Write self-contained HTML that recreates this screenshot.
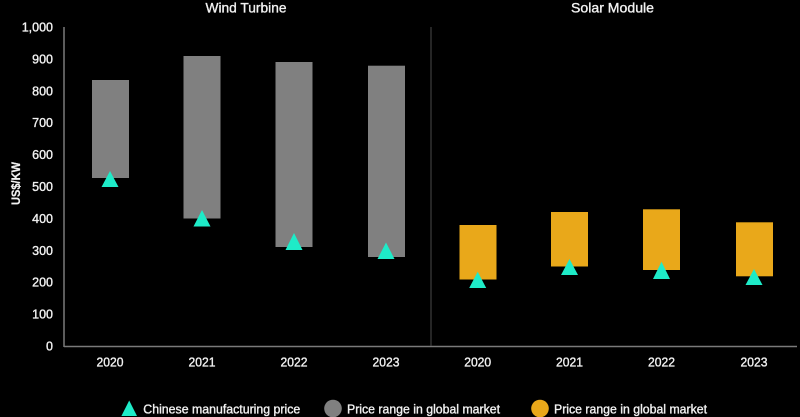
<!DOCTYPE html>
<html><head><meta charset="utf-8"><style>
html,body{margin:0;padding:0;background:#000;}
svg{display:block;}
text{font-family:"Liberation Sans",Arial,sans-serif;fill:#f2f2f2;stroke:#f2f2f2;stroke-width:0.35;}
</style></head><body>
<svg width="800" height="417" viewBox="0 0 800 417" xmlns="http://www.w3.org/2000/svg">
<rect width="800" height="417" fill="#000"/>
<!-- titles -->
<text x="246" y="12.5" font-size="14" text-anchor="middle" textLength="81" lengthAdjust="spacingAndGlyphs">Wind Turbine</text>
<text x="612.5" y="12.5" font-size="14" text-anchor="middle" textLength="83" lengthAdjust="spacingAndGlyphs">Solar Module</text>
<!-- y axis label -->
<text transform="translate(20,183.5) rotate(-90)" font-size="12" font-weight="bold" text-anchor="middle" textLength="43" lengthAdjust="spacingAndGlyphs" style="stroke-width:0.2">US$/KW</text>
<!-- y ticks -->
<g font-size="12.5" text-anchor="end">
<text x="53" y="350.5">0</text>
<text x="53" y="318.6">100</text>
<text x="53" y="286.7">200</text>
<text x="53" y="254.8">300</text>
<text x="53" y="222.9">400</text>
<text x="53" y="191">500</text>
<text x="53" y="159.1">600</text>
<text x="53" y="127.2">700</text>
<text x="53" y="95.3">800</text>
<text x="53" y="63.4">900</text>
<text x="53" y="31.5">1,000</text>
</g>
<!-- axes -->
<line x1="64" y1="27" x2="64" y2="347" stroke="#7a7a7a" stroke-width="1.5"/>
<line x1="64" y1="346.5" x2="797" y2="346.5" stroke="#7a7a7a" stroke-width="1.5"/>
<line x1="431" y1="27" x2="431" y2="346" stroke="#4a4a4a" stroke-width="1"/>
<!-- wind bars -->
<g fill="#808080">
<rect x="92" y="80" width="37" height="98"/>
<rect x="183.5" y="56" width="37" height="162.5"/>
<rect x="275.5" y="62" width="37" height="185"/>
<rect x="368" y="65.7" width="37" height="191.3"/>
</g>
<!-- solar bars -->
<g fill="#E9A81A">
<rect x="459.5" y="225" width="37" height="54.5"/>
<rect x="551" y="212" width="37" height="54.5"/>
<rect x="643" y="209.3" width="37" height="60.7"/>
<rect x="736" y="222.3" width="37" height="54"/>
</g>
<!-- triangles -->
<g fill="#1EEBC8">
<polygon points="110,171 118.5,187 101.5,187"/>
<polygon points="202,210 210.5,226.5 193.5,226.5"/>
<polygon points="294,233 302.5,250 285.5,250"/>
<polygon points="386,242.5 394.5,259 377.5,259"/>
<polygon points="477.7,271.7 486.2,288 469.2,288"/>
<polygon points="569.5,259 578,275 561,275"/>
<polygon points="661.5,261.7 670,279 653,279"/>
<polygon points="754,269 762.5,285 745.5,285"/>
</g>
<!-- x labels -->
<g font-size="13" text-anchor="middle">
<text x="110" y="366.5" textLength="27" lengthAdjust="spacingAndGlyphs">2020</text>
<text x="202" y="366.5" textLength="27" lengthAdjust="spacingAndGlyphs">2021</text>
<text x="294" y="366.5" textLength="27" lengthAdjust="spacingAndGlyphs">2022</text>
<text x="386" y="366.5" textLength="27" lengthAdjust="spacingAndGlyphs">2023</text>
<text x="477.7" y="366.5" textLength="27" lengthAdjust="spacingAndGlyphs">2020</text>
<text x="569.5" y="366.5" textLength="27" lengthAdjust="spacingAndGlyphs">2021</text>
<text x="661.5" y="366.5" textLength="27" lengthAdjust="spacingAndGlyphs">2022</text>
<text x="754" y="366.5" textLength="27" lengthAdjust="spacingAndGlyphs">2023</text>
</g>
<!-- legend -->
<polygon points="129.2,400.5 137,416 121.4,416" fill="#1EEBC8"/>
<text x="143.3" y="413.5" font-size="13" textLength="157" lengthAdjust="spacingAndGlyphs">Chinese manufacturing price</text>
<circle cx="333" cy="408.5" r="8.8" fill="#808080"/>
<text x="347" y="413.5" font-size="13" textLength="153" lengthAdjust="spacingAndGlyphs">Price range in global market</text>
<circle cx="540" cy="408.5" r="8.8" fill="#E9A81A"/>
<text x="554" y="413.5" font-size="13" textLength="153" lengthAdjust="spacingAndGlyphs">Price range in global market</text>
</svg>
</body></html>
